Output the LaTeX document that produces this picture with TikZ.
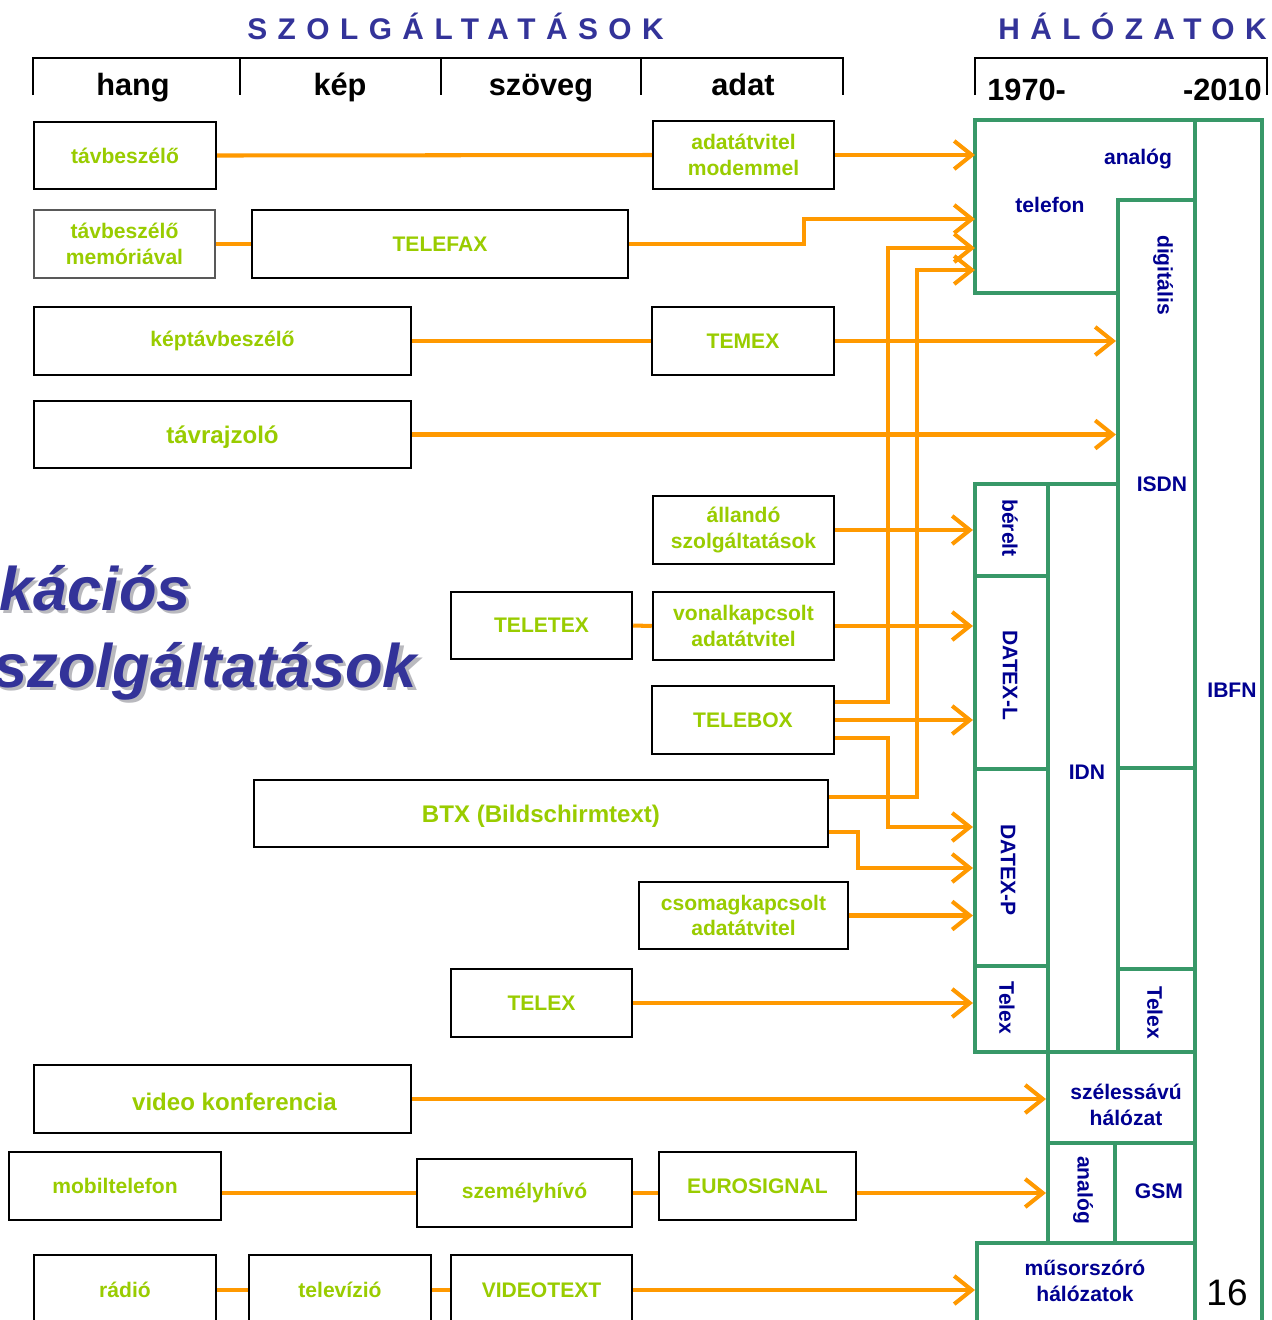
\documentclass[tikz,border=0pt]{standalone}
\usepackage{fontspec}
\setmainfont{Liberation Sans}
\newfontfamily\spacedfont[LetterSpace=35]{Liberation Sans Bold}
\usetikzlibrary{arrows.meta,fit}
\definecolor{limeg}{RGB}{153,204,0}
\definecolor{orng}{RGB}{255,153,0}
\definecolor{netgreen}{RGB}{56,152,104}
\definecolor{netblue}{RGB}{0,0,145}
\definecolor{titleblue}{RGB}{51,51,153}
\definecolor{shadowgray}{RGB}{185,185,190}
\tikzset{
  svc/.style={draw=black, line width=1.4pt, inner sep=0pt},
  svclab/.style={text=limeg, font=\fontsize{12}{14.7}\selectfont\bfseries, align=center, inner sep=0pt},
  biglab/.style={font=\fontsize{13.7}{16}\selectfont\bfseries},
  cell/.style={draw=netgreen, line width=2.3pt, inner sep=0pt},
  nlab/.style={text=netblue, font=\fontsize{12}{14.7}\selectfont\bfseries, align=center, inner sep=0pt},
  link/.style={draw=orng, line width=2.3pt},
  arr/.style={link, -{Straight Barb[length=10pt,width=16pt]}},
  hdr/.style={font=\fontsize{17.5}{20}\selectfont\bfseries, inner sep=0pt},
  ttl/.style={text=titleblue, font=\spacedfont\fontsize{17}{20}\selectfont, inner sep=0pt, anchor=base west},
  bigt/.style={font=\fontsize{35}{40}\selectfont\bfseries\itshape, inner sep=0pt, anchor=base west, text=titleblue},
  hline/.style={draw=black, line width=1.1pt}
}
\newcommand\shadowed[1]{\makebox[0pt][l]{\hspace*{1.8pt}\raisebox{-1.8pt}{\textcolor{shadowgray}{#1}}}#1}
% [#1] label options, #2 name, #3 box options, #4-#7 corners, #8 text
\newcommand\svcbox[8][]{\node[svc, #3, fit={(#4,#5) (#6,#7)}] (#2) {};
  \node[svclab, #1] (#2-t) at (#2.center) {#8};}
\newcommand\netcell[5]{\node[cell, fit={(#2,#3) (#4,#5)}] (#1) {};}
\begin{document}
\begin{tikzpicture}[x=0.02cm, y=-0.02cm]
\clip (0,0) rectangle (1272,1320);
\fill[white] (0,0) rectangle (1272,1320);

% titles
\node[ttl] (tszolg) at (247,39) {SZOLGÁLTATÁSOK};
\node[ttl] (thalo) at (998,39) {HÁLÓZATOK};

% header brackets
\draw[hline] (33,95) -- (33,58) -- (843,58) -- (843,95);
\draw[hline] (240,58) -- (240,95);
\draw[hline] (441,58) -- (441,95);
\draw[hline] (641,58) -- (641,95);
\draw[hline] (975,95) -- (975,58) -- (1267,58) -- (1267,95);
\node[hdr, anchor=base] (hhang) at (133,95) {hang};
\node[hdr, anchor=base] (hkep) at (340,95) {kép};
\node[hdr, anchor=base] (hszov) at (541,95) {szöveg};
\node[hdr, anchor=base] (hadat) at (743,95) {adat};
\node[hdr, anchor=base west] (y1970) at (987,100) {1970-};
\node[hdr, anchor=base east] (y2010) at (1262,100) {-2010};

% big title
\node[bigt] (big1) at (-1,610) {\shadowed{kációs}};
\node[bigt] (big2) at (-7,687) {\shadowed{szolgáltatások}};

% network cells
\netcell{ibfn}{1195}{120}{1262}{1340}
\draw[draw=netgreen, line width=2.3pt] (1118,293) -- (975,293) -- (975,120) -- (1195,120);
\coordinate (telW) at (975,200);
\netcell{isdn}{1118}{200}{1195}{768}
\netcell{emptyc}{1118}{768}{1195}{969}
\netcell{telexr}{1118}{969}{1195}{1052}
\netcell{idn}{1048}{484}{1118}{1052}
\netcell{berelt}{975}{484}{1048}{576}
\netcell{datexl}{975}{576}{1048}{769}
\netcell{datexp}{975}{769}{1048}{966}
\netcell{telexl}{975}{966}{1048}{1052}
\netcell{szeles}{1048}{1052}{1195}{1143}
\netcell{analogb}{1048}{1143}{1115}{1243}
\netcell{gsm}{1115}{1143}{1195}{1243}
\netcell{musor}{977}{1243}{1195}{1340}

% network labels
\node[nlab] (lanalog) at (1138,159) {analóg};
\node[nlab] (ltelefon) at (1050,205) {telefon};
\node[nlab, rotate=-90] (ldigit) at (1163,275) {digitális};
\node[nlab] (lisdn) at (1162,484) {ISDN};
\node[nlab] (libfn) at (1232,690) {IBFN};
\node[nlab, rotate=-90] (lberelt) at (1010,528) {bérelt};
\node[nlab, rotate=-90] (ldatexl) at (1010,675) {DATEX-L};
\node[nlab, rotate=-90] (ldatexp) at (1008,870) {DATEX-P};
\node[nlab, rotate=-90] (ltelexl) at (1007,1008) {Telex};
\node[nlab] (lidn) at (1087,772) {IDN};
\node[nlab, rotate=-90] (ltelexr) at (1155,1013) {Telex};
\node[nlab] (lszeles) at (1126,1105) {szélessávú\\hálózat};
\node[nlab, rotate=-90] (lanalogb) at (1083,1190) {analóg};
\node[nlab] (lgsm) at (1159,1191) {GSM};
\node[nlab] (lmusor) at (1085,1281) {műsorszóró\\hálózatok};
\node[anchor=base, inner sep=0pt, font=\fontsize{21}{24}\selectfont] (pnum) at (1227,1305) {16};

% service boxes
\svcbox{tb1}{}{34}{122}{216}{189}{távbeszélő}
\svcbox{modem}{}{653}{121}{834}{189}{adatátvitel\\modemmel}
\svcbox{mem}{draw=black!65, line width=1.1pt}{34}{210}{215}{278}{távbeszélő\\memóriával}
\svcbox{fax}{}{252}{210}{628}{278}{TELEFAX}
\svcbox{kep}{}{34}{307}{411}{375}{képtávbeszélő}
\svcbox{temex}{}{652}{307}{834}{375}{TEMEX}
\svcbox[biglab, yshift=-0.05cm]{rajz}{}{34}{401}{411}{468}{távrajzoló}
\svcbox{allando}{}{653}{496}{834}{564}{állandó\\szolgáltatások}
\svcbox{teletex}{}{451}{592}{632}{659}{TELETEX}
\svcbox{vonal}{}{653}{592}{834}{660}{vonalkapcsolt\\adatátvitel}
\svcbox{tbx}{}{652}{686}{834}{754}{TELEBOX}
\svcbox[biglab, yshift=-0.05cm]{btx}{}{254}{780}{828}{847}{BTX (Bildschirmtext)}
\svcbox{csomag}{}{639}{882}{848}{949}{csomagkapcsolt\\adatátvitel}
\svcbox{telex}{}{451}{969}{632}{1037}{TELEX}
\svcbox[biglab, xshift=0.24cm, yshift=-0.05cm]{video}{}{34}{1065}{411}{1133}{video konferencia}
\svcbox{mobil}{}{9}{1152}{221}{1220}{mobiltelefon}
\svcbox{szem}{}{417}{1159}{632}{1227}{személyhívó}
\svcbox{euro}{}{659}{1152}{856}{1220}{EUROSIGNAL}
\svcbox{radio}{}{34}{1255}{216}{1325}{rádió}
\svcbox{tv}{}{249}{1255}{431}{1325}{televízió}
\svcbox{vt}{}{451}{1255}{632}{1325}{VIDEOTEXT}

% junctions
\coordinate (j1) at (804,219);
\coordinate (j2) at (888,248);
\coordinate (j3) at (888,827);
\coordinate (j4) at (917,270);
\coordinate (j5) at (858,868);

% connectors
\draw[link] (tb1.east) -- (modem.west);
\draw[arr] (modem.east) -- (modem.east -| telW);
\draw[link] (mem.east) -- (fax.west);
\draw[arr] (fax.east) -| (j1) -- (j1 -| telW);
\draw[link] (kep.east) -- (temex.west);
\draw[arr] (temex.east) -- (temex.east -| isdn.west);
\draw[arr] (rajz.east) -- (rajz.east -| isdn.west);
\draw[arr] (allando.east) -- (allando.east -| berelt.west);
\draw[link] (teletex.east) -- (vonal.west);
\draw[arr] (vonal.east) -- (vonal.east -| datexl.west);
\draw[arr] (tbx.east) -- (tbx.east -| datexl.west);
\draw[arr] ([yshift=0.36cm]tbx.east) -| (j2) -- (j2 -| telW);
\draw[arr] ([yshift=-0.36cm]tbx.east) -| (j3) -- (j3 -| datexp.west);
\draw[arr] ([yshift=0.33cm]btx.east) -| (j4) -- (j4 -| telW);
\draw[arr] ([yshift=-0.37cm]btx.east) -| (j5) -- (j5 -| datexp.west);
\draw[arr] (csomag.east) -- (csomag.east -| datexp.west);
\draw[arr] (telex.east) -- (telex.east -| telexl.west);
\draw[arr] (video.east) -- (video.east -| szeles.west);
\draw[link] (mobil.east |- szem.west) -- (szem.west);
\draw[link] (szem.east) -- (szem.east -| euro.west);
\draw[arr] (euro.east |- szem.east) -- (szem.east -| analogb.west);
\draw[link] (radio.east) -- (tv.west);
\draw[link] (tv.east) -- (vt.west);
\draw[arr] (vt.east) -- (vt.east -| musor.west);
\end{tikzpicture}
\end{document}
